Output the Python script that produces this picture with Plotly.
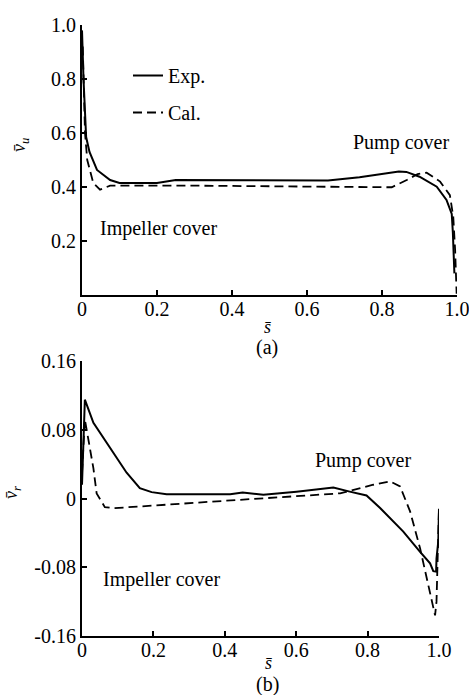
import plotly.graph_objects as go
from plotly.subplots import make_subplots

# ---- data ----
# (a) circumferential velocity v_u
a_exp_s = [0.0, 0.004, 0.011, 0.02, 0.04, 0.06, 0.075, 0.10, 0.2, 0.25, 0.4, 0.656, 0.74, 0.812, 0.845,
           0.865, 0.9, 0.946, 0.972, 0.986, 0.989, 0.993]
a_exp_v = [0.98, 0.80, 0.585, 0.53, 0.463, 0.44, 0.426, 0.415, 0.415, 0.426, 0.425, 0.424, 0.436, 0.45, 0.457,
           0.456, 0.438, 0.401, 0.352, 0.30, 0.23, 0.08]
a_cal_s = [0.002, 0.004, 0.008, 0.014, 0.03, 0.048, 0.075, 0.3, 0.6, 0.826, 0.866, 0.895, 0.919, 0.955,
           0.981, 0.99, 0.995, 0.999]
a_cal_v = [0.92, 0.84, 0.60, 0.50, 0.415, 0.39, 0.405, 0.405, 0.40, 0.399, 0.426, 0.448, 0.453, 0.42,
           0.37, 0.29, 0.167, 0.005]

# (b) radial velocity v_r
b_exp_s = [0.0, 0.008, 0.032, 0.078, 0.125, 0.162, 0.195, 0.237, 0.415, 0.45, 0.508, 0.601, 0.704, 0.75,
           0.797, 0.835, 0.90, 0.947, 0.975, 0.984, 0.992, 0.993, 0.998, 1.0]
b_exp_v = [0.016, 0.115, 0.088, 0.059, 0.030, 0.012, 0.0074, 0.005, 0.005, 0.007, 0.0043, 0.008, 0.0128, 0.008,
           0.0035, -0.011, -0.0385, -0.062, -0.0755, -0.0845, -0.085, -0.07, -0.05, -0.012]
b_cal_s = [0.0, 0.008, 0.032, 0.041, 0.064, 0.088, 0.443, 0.60, 0.723, 0.816, 0.863, 0.891, 0.919, 0.947,
           0.975, 0.989, 0.993, 0.995, 1.0]
b_cal_v = [0.03, 0.092, 0.035, 0.006, -0.010, -0.0113, -0.0015, 0.0023, 0.006, 0.016, 0.0199, 0.014, -0.015,
           -0.058, -0.112, -0.136, -0.12, -0.089, -0.011]

x_ticks = [0, 0.2, 0.4, 0.6, 0.8, 1.0]
x_ticktext = ["0", "0.2", "0.4", "0.6", "0.8", "1.0"]
a_yticks = [0.2, 0.4, 0.6, 0.8, 1.0]
a_yticktext = ["0.2", "0.4", "0.6", "0.8", "1.0"]
b_yticks = [-0.16, -0.08, 0, 0.08, 0.16]
b_yticktext = ["-0.16", "-0.08", "0", "0.08", "0.16"]

W, H = 469, 695
FONT = "Liberation Serif, Times New Roman, Times, serif"
DASH = "9px,5px"

fig = make_subplots(rows=2, cols=1)

fig.add_trace(go.Scatter(x=a_exp_s, y=a_exp_v, mode="lines", name="Exp.", legendgroup="e",
                         line=dict(color="black", width=2)), row=1, col=1)
fig.add_trace(go.Scatter(x=a_cal_s, y=a_cal_v, mode="lines", name="Cal.", legendgroup="c",
                         line=dict(color="black", width=1.8, dash=DASH)), row=1, col=1)
fig.add_trace(go.Scatter(x=b_exp_s, y=b_exp_v, mode="lines", name="Exp.", showlegend=False,
                         line=dict(color="black", width=2)), row=2, col=1)
fig.add_trace(go.Scatter(x=b_cal_s, y=b_cal_v, mode="lines", name="Cal.", showlegend=False,
                         line=dict(color="black", width=1.8, dash=DASH)), row=2, col=1)

axis_common = dict(showline=True, linecolor="black", linewidth=2, ticks="inside", ticklen=5,
                   tickwidth=1.5, tickcolor="black", showgrid=False, zeroline=False,
                   automargin=False, ticklabeloverflow="allow",
                   tickfont=dict(family=FONT, size=20, color="black"), mirror=False)

fig.update_xaxes(**axis_common, range=[0, 1], tickvals=x_ticks, ticktext=x_ticktext,
                 ticklabelstandoff=-5)
fig.update_xaxes(domain=[82 / W, 457 / W], row=1, col=1)
fig.update_xaxes(domain=[82 / W, 439 / W], row=2, col=1)
fig.update_yaxes(**axis_common)
fig.update_yaxes(domain=[1 - 295 / H, 1 - 25 / H], range=[0, 1], tickvals=a_yticks,
                 ticktext=a_yticktext, row=1, col=1)
fig.update_yaxes(domain=[1 - 636 / H, 1 - 361 / H], range=[-0.16, 0.16], tickvals=b_yticks,
                 ticktext=b_yticktext, row=2, col=1)

def ann(text, px, py, size=20, angle=0):
    fig.add_annotation(text=text, x=px / W, y=1 - py / H, xref="paper", yref="paper",
                       xanchor="center", yanchor="middle", showarrow=False, textangle=angle,
                       font=dict(family=FONT, size=size, color="black"))

ann("Pump cover", 401, 142)
ann("Impeller cover", 158, 228)
ann("Pump cover", 363, 460)
ann("Impeller cover", 161, 579)
ann("<i>s\u0304</i>", 268, 327, size=18)
ann("(a)", 267, 347, size=20)
ann("<i>s\u0304</i>", 269, 663, size=18)
ann("(b)", 267, 684, size=20)
ann("<i>v\u0304</i><sub><i>u</i></sub>", 20, 145, size=18, angle=-90)
ann("<i>v\u0304</i><sub><i>r</i></sub>", 12, 493, size=18, angle=-90)

fig.update_layout(
    template="none",
    width=W, height=H, margin=dict(l=0, r=0, t=0, b=0, autoexpand=False),
    paper_bgcolor="white", plot_bgcolor="white",
    font=dict(family=FONT, size=20, color="black"),
    showlegend=True,
    legend=dict(x=128 / W, y=1 - 56 / H, xanchor="left", yanchor="top",
                bgcolor="rgba(0,0,0,0)", itemwidth=30, tracegroupgap=8,
                font=dict(family=FONT, size=20, color="black")),
)

fig.write_html("out.html", config={"displayModeBar": False},
               post_script="document.body.style.margin='0';document.body.style.overflow='hidden';")
